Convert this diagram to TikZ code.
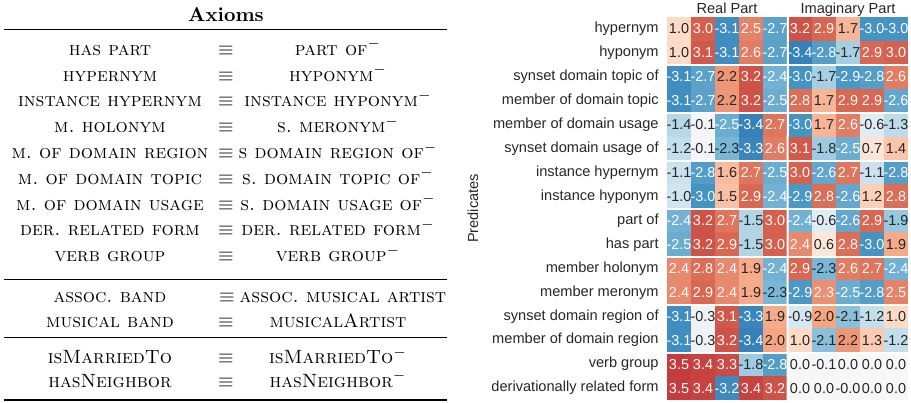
\documentclass[tikz,border=0pt]{standalone}
\usepackage{fontspec}
\newfontfamily\plotfont{Liberation Sans}
\usepackage{tikz}
\usetikzlibrary{positioning}
\frenchspacing

% RdBu_r colour map, anchors from -5 (cm0) to +5 (cm10)
\definecolor{cm0}{HTML}{053061}
\definecolor{cm1}{HTML}{2166AC}
\definecolor{cm2}{HTML}{4393C3}
\definecolor{cm3}{HTML}{92C5DE}
\definecolor{cm4}{HTML}{D1E5F0}
\definecolor{cm5}{HTML}{F7F7F7}
\definecolor{cm6}{HTML}{FDDBC7}
\definecolor{cm7}{HTML}{F4A582}
\definecolor{cm8}{HTML}{D6604D}
\definecolor{cm9}{HTML}{B2182B}
\definecolor{cm10}{HTML}{67001F}
\definecolor{txtdark}{HTML}{262626}

\begin{document}
\begin{tikzpicture}[x=0.5pt,y=-0.5pt,
  ax/.style={anchor=base,inner sep=0pt,font=\fontsize{9.6}{12}\selectfont},
  cell/.style={minimum width=12.2pt,minimum height=12.1pt,inner sep=0pt,
               font=\plotfont\fontsize{7.2}{8}\selectfont},
  rowlab/.style={anchor=east,inner sep=0pt,text=txtdark,
                 font=\plotfont\fontsize{7.3}{8}\selectfont},
  head/.style={inner sep=0pt,text=txtdark,font=\plotfont\fontsize{7.3}{8}\selectfont},
  sep/.style={white,line width=1pt},
  heavyrule/.style={line width=0.8pt},
  lightrule/.style={line width=0.5pt}]
\useasboundingbox (0,0) rectangle (911,402);

%% ---------- Axioms table ----------
\node[ax,font=\fontsize{10}{12}\selectfont\bfseries] (title) at (226,21) {Axioms};
\draw[heavyrule] (4,29.5) -- (447,29.5);

\foreach \lft/\rgt [count=\i] in {has part/part of, hypernym/hyponym,
    instance hypernym/instance hyponym, m. holonym/s. meronym,
    m. of domain region/s domain region of, m. of domain topic/s. domain topic of,
    m. of domain usage/s. domain usage of, der. related form/der. related form,
    verb group/verb group}{
  \node[ax] (L\i) at (110,{55.2+25.8*(\i-1)}) {\textsc{\lft}};
  \node[ax] (E\i) at (226,{55.2+25.8*(\i-1)}) {$\equiv$};
  \node[ax] (R\i) at (338,{55.2+25.8*(\i-1)}) {\textsc{\rgt}$^-$};
}
\draw[lightrule] (4,279) -- (447,279);

% music
\node[ax] (L10) at (110,302.5) {\textsc{assoc. band}};
\node[ax] (E10) at (227,302.5) {$\equiv$};
\node[ax] (R10) at (343,302.5) {\textsc{assoc. musical artist}};
\node[ax] (L11) at (110,327.5) {\textsc{musical band}};
\node[ax] (E11) at (226,327.5) {$\equiv$};
\node[ax] (R11) at (338,327.5) {\textsc{musicalArtist}};
\draw[lightrule] (4,337) -- (447,337);

% people
\node[ax] (L12) at (110,363.5) {\textsc{isMarriedTo}};
\node[ax] (E12) at (226,363.5) {$\equiv$};
\node[ax] (R12) at (338,363.5) {\textsc{isMarriedTo}$^-$};
\node[ax] (L13) at (110,387) {\textsc{hasNeighbor}};
\node[ax] (E13) at (226,387) {$\equiv$};
\node[ax] (R13) at (338,387) {\textsc{hasNeighbor}$^-$};
\draw[heavyrule] (4,400) -- (447,400);

%% ---------- heatmap ----------
\foreach \vals [count=\r] in {
  {1.0,3.0,-3.1,2.5,-2.7,3.2,2.9,1.7,-3.0,-3.0},
  {1.0,3.1,-3.1,2.6,-2.7,-3.4,-2.8,-1.7,2.9,3.0},
  {-3.1,-2.7,2.2,3.2,-2.4,-3.0,-1.7,-2.9,-2.8,2.6},
  {-3.1,-2.7,2.2,3.2,-2.5,2.8,1.7,2.9,2.9,-2.6},
  {-1.4,-0.1,-2.5,-3.4,2.7,-3.0,1.7,2.6,-0.6,-1.3},
  {-1.2,-0.1,-2.3,-3.3,2.6,3.1,-1.8,-2.5,0.7,1.4},
  {-1.1,-2.8,1.6,2.7,-2.5,3.0,-2.6,2.7,-1.1,-2.8},
  {-1.0,-3.0,1.5,2.9,-2.4,-2.9,2.8,-2.6,1.2,2.8},
  {-2.4,3.2,2.7,-1.5,3.0,-2.4,-0.6,-2.6,2.9,-1.9},
  {-2.5,3.2,2.9,-1.5,3.0,2.4,0.6,2.8,-3.0,1.9},
  {2.4,2.8,2.4,1.9,-2.4,2.9,-2.3,2.6,2.7,-2.4},
  {2.4,2.9,2.4,1.9,-2.3,-2.9,2.3,-2.5,-2.8,2.5},
  {-3.1,-0.3,3.1,-3.3,1.9,-0.9,2.0,-2.1,-1.2,1.0},
  {-3.1,-0.3,3.2,-3.4,2.0,1.0,-2.1,2.2,1.3,-1.2},
  {3.5,3.4,3.3,-1.8,-2.8,0.0,-0.1,0.0,0.0,0.0},
  {3.5,3.4,-3.2,3.4,3.2,0.0,0.0,-0.0,0.0,0.0}}{
  \foreach \v [count=\c] in \vals {
    \pgfmathtruncatemacro\ci{floor(\v+5)}
    \pgfmathtruncatemacro\cj{\ci+1}
    \pgfmathsetmacro\cf{(\v+5-\ci)*100}
    \colorlet{cellfill}{cm\cj!\cf!cm\ci}
    \pgfmathtruncatemacro\wt{(\v>2.25)||(\v<-2.35)}
    \ifnum\wt=1 \colorlet{celltext}{white}\else\colorlet{celltext}{txtdark}\fi
    \node[cell,fill=cellfill,text=celltext] (c\r-\c)
      at ({679+24*(\c-1)+(\c>5)},{17+23.94*(\r-0.5)}) {\v};
  }
}

% row labels
\foreach \name [count=\r] in {hypernym, hyponym, synset domain topic of,
    member of domain topic, member of domain usage, synset domain usage of,
    instance hypernym, instance hyponym, part of, has part, member holonym,
    member meronym, synset domain region of, member of domain region,
    verb group, derivationally related form}
  \node[rowlab] (lab\r) at (659,{17+23.94*(\r-0.5)}) {\name};

% white separators
\foreach \k in {2,4,...,14}
  \draw[sep] (c\k-1.south west) -- (c\k-10.south east);
\draw[sep] (c1-5.north east) -- (c16-5.south east);

% headers
\node[head,anchor=base] (hreal) at (727,13) {Real Part};
\node[head,anchor=base] (himag) at (848,13) {Imaginary Part};
\node[head,rotate=90] (pred) at (473,208.5) {Predicates};

\end{tikzpicture}
\end{document}
